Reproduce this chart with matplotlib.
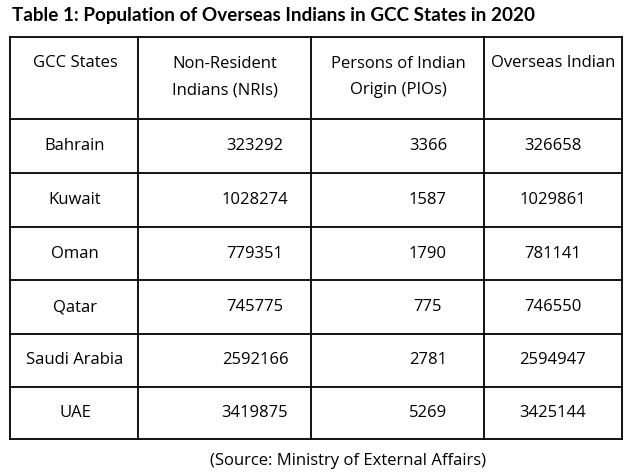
import matplotlib.pyplot as plt

states = ["Bahrain", "Kuwait", "Oman", "Qatar", "Saudi Arabia", "UAE"]
nris = [323292, 1028274, 779351, 745775, 2592166, 3419875]
pios = [3366, 1587, 1790, 775, 2781, 5269]
overseas = [326658, 1029861, 781141, 746550, 2594947, 3425144]
headers = ["GCC States", "Non-Resident\nIndians (NRIs)",
           "Persons of Indian\nOrigin (PIOs)", "Overseas Indian"]
title = "Table 1: Population of Overseas Indians in GCC States in 2020"
source = "(Source: Ministry of External Affairs)"

body_font = ["Open Sans", "DejaVu Sans"]

fig = plt.figure(figsize=(6.37, 4.75), dpi=100)
ax = fig.add_axes([0, 0, 1, 1])
ax.set_xlim(0, 637)
ax.set_ylim(475, 0)
ax.axis("off")

# grid lines (pixel coords)
col_x = [10, 138, 311, 484, 622]
row_y = [37, 119, 173, 227, 280, 334, 387, 439]
for x in col_x:
    ax.plot([x, x], [row_y[0], row_y[-1]], color="black", lw=1.3)
for y in row_y:
    ax.plot([col_x[0], col_x[-1]], [y, y], color="black", lw=1.3)

ax.text(12, 16, title, fontsize=13.6, fontweight="bold", family=["Lato", "DejaVu Sans"],
        va="center", ha="left")

# header
head_cx = [75, 225, 398, 553]
for cx, h in zip(head_cx, headers):
    cy = 77 if "\n" in h else 63
    ax.text(cx, cy, h, fontsize=12, family=body_font, va="center", ha="center",
            linespacing=1.85)

# body rows
val_cx = [75, 255, 428, 553]
for i in range(len(states)):
    cy = (row_y[i + 1] + row_y[i + 2]) / 2
    cells = [states[i], str(nris[i]), str(pios[i]), str(overseas[i])]
    for cx, c in zip(val_cx, cells):
        ax.text(cx, cy, c, fontsize=12, family=body_font, va="center", ha="center")

ax.text(348, 461, source, fontsize=12, family=body_font, va="center", ha="center")

fig.savefig("out.png", dpi=100)
